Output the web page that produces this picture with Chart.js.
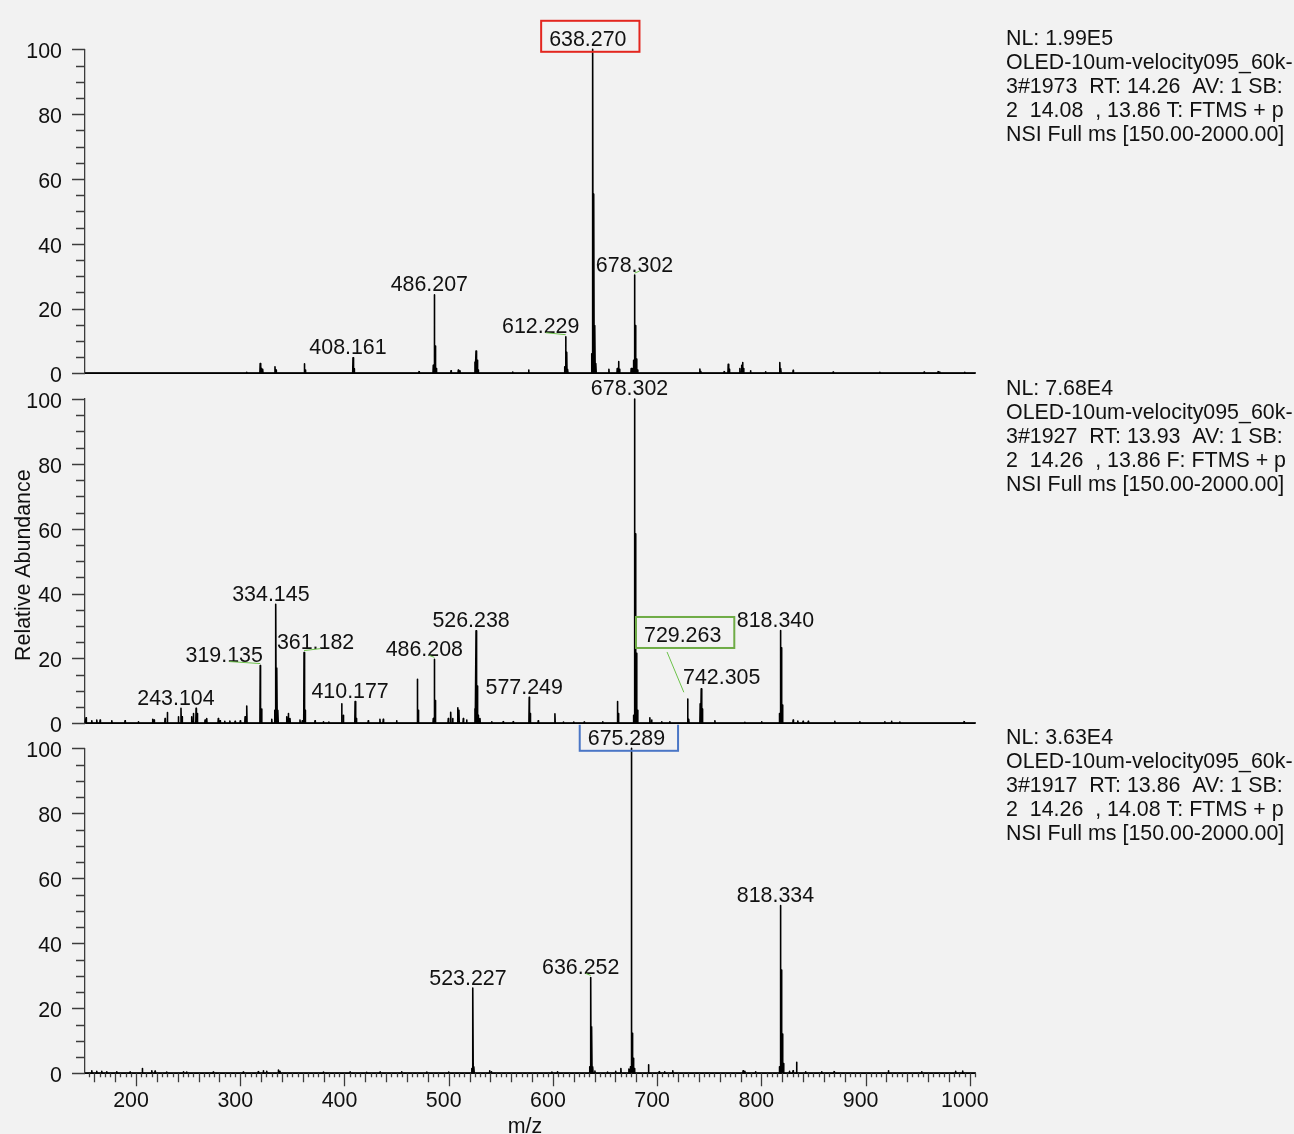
<!DOCTYPE html>
<html>
<head>
<meta charset="utf-8">
<title>OLED-10um-velocity095_60k-3 mass spectra</title>
<script src="https://cdn.jsdelivr.net/npm/chart.js@4.4.1/dist/chart.umd.min.js"></script>
<style>
  html, body { margin: 0; padding: 0; background: #f2f2f2; }
  #wrap { position: relative; width: 1294px; height: 1134px; overflow: hidden; background: #f2f2f2; }
  #wrap canvas { position: absolute; left: 0; top: 0; }
</style>
</head>
<body>
<div id="wrap">
  <canvas id="scanA" width="1294" height="1134"></canvas>
  <canvas id="scanB" width="1294" height="1134"></canvas>
  <canvas id="scanC" width="1294" height="1134"></canvas>
</div>
<script>
// ---- axis ranges and tick labels ----
const MZ_MIN = 151;
const MZ_MAX = 1005;
const mzTickValues = [200, 300, 400, 500, 600, 700, 800, 900, 1000];
const abundanceTickValues = [0, 20, 40, 60, 80, 100];

// ---- scan #1973 (top) : centroid m/z and relative abundance ----
const scanAMz = [306.2, 319.1, 320.1, 321.5, 333.3, 334.3, 361.5, 362.5, 408.161, 409.2,
  471.5, 485.2, 486.207, 487.21, 488.2, 502.2, 509.2, 510.8, 525.2, 526.2, 527.2, 528.2,
  561.3, 576.7, 611.2, 612.229, 613.23, 614.2, 637.27, 638.270, 639.27, 640.27, 641.27,
  653.7, 661.7, 663.0, 664.0, 675.1, 676.3, 677.3, 678.302, 679.3, 680.3, 681.3,
  741.0, 742.0, 764.3, 768.2, 769.2, 779.4, 781.0, 782.0, 783.0, 789.6, 804.0, 817.7,
  818.7, 830.5, 868.9, 913.7, 956.2, 969.6, 971.2, 995.2];
const scanAAb = [0.3, 3.0, 1.5, 1.2, 2.0, 1.0, 2.9, 1.0, 4.8, 1.4,
  0.5, 2.5, 24.2, 8.4, 1.5, 0.8, 1.0, 0.8, 3.5, 6.9, 4.0, 1.0,
  0.4, 1.0, 2.0, 11.3, 6.5, 1.2, 6.0, 100, 55.3, 14.7, 3.0,
  1.2, 1.5, 3.6, 1.2, 1.5, 1.5, 4.0, 30.3, 14.7, 4.4, 1.0,
  1.3, 0.6, 0.5, 2.8, 1.2, 1.5, 2.5, 3.3, 1.5, 0.8, 0.5, 3.3,
  1.5, 0.9, 0.4, 0.3, 0.4, 0.5, 0.4, 0.3];
const scanALabels = ['408.161', '486.207', '612.229', '638.270', '678.302'];
const scanAInfo = ['NL: 1.99E5', 'OLED-10um-velocity095_60k-', '3#1973  RT: 14.26  AV: 1 SB:',
  '2  14.08  , 13.86 T: FTMS + p', 'NSI Full ms [150.00-2000.00]'];

// ---- scan #1927 (middle) ----
const scanBMz = [152.0, 157.5, 162.3, 165.5, 176.7, 189.4, 202.2, 216.0, 217.3, 227.8, 230.0,
  240.6, 243.104, 244.1, 253.4, 255.0, 257.6, 258.8, 266.2, 267.8, 278.9, 280.6, 285.0, 290.0,
  295.0, 300.0, 304.6, 306.2, 319.135, 320.5, 330.2, 333.1, 334.145, 335.15, 336.15, 344.6,
  346.1, 347.7, 357.3, 359.5, 361.182, 362.2, 371.7, 379.7, 385.0, 397.3, 398.9, 410.177,
  411.3, 422.8, 434.0, 437.2, 450.0, 469.9, 470.9, 485.2, 486.208, 487.2, 499.6, 501.9, 503.8,
  508.6, 509.8, 514.0, 517.2, 525.2, 526.238, 527.24, 528.2, 530.0, 541.2, 552.3, 561.9,
  577.249, 578.3, 585.9, 601.9, 610.0, 620.0, 630.0, 647.7, 661.9, 662.9, 677.3, 678.302,
  679.3, 680.3, 681.3, 693.0, 694.7, 704.3, 712.2, 729.263, 730.3, 741.3, 742.305, 743.3,
  755.4, 784.2, 800.2, 817.3, 818.340, 819.34, 820.34, 830.5, 835.0, 840.0, 845.0, 870.5,
  894.5, 918.5, 924.9, 932.9, 994.5];
const scanBAb = [1.7, 0.8, 1.0, 1.0, 0.8, 0.8, 0.5, 1.2, 1.0, 1.5, 3.3,
  2.0, 4.6, 2.0, 2.0, 3.0, 4.6, 3.0, 1.0, 1.5, 1.5, 0.8, 0.6, 0.7,
  0.6, 0.8, 2.0, 5.3, 17.8, 4.4, 1.2, 4.0, 36.7, 17.0, 4.0, 2.0,
  3.0, 1.5, 1.0, 0.8, 21.8, 4.0, 0.8, 0.5, 0.4, 6.0, 2.5, 6.7,
  1.5, 0.8, 1.2, 1.2, 0.8, 13.6, 4.0, 1.5, 19.7, 7.0, 1.5, 3.4, 1.5,
  4.8, 4.0, 1.5, 1.0, 4.5, 28.5, 11.5, 2.5, 1.5, 0.5, 0.5, 0.5,
  8.0, 3.0, 0.8, 2.9, 0.4, 0.4, 0.4, 0.5, 6.7, 3.0, 2.5, 100,
  58.4, 21.6, 4.0, 1.7, 1.0, 0.5, 0.5, 7.5, 1.2, 6.0, 10.6, 4.4,
  0.8, 0.3, 0.5, 3.0, 28.6, 23.3, 5.6, 1.0, 0.7, 0.6, 0.6, 0.6,
  0.5, 0.5, 0.6, 0.4, 0.5];
const scanBLabels = ['243.104', '319.135', '334.145', '361.182', '410.177', '486.208',
  '526.238', '577.249', '678.302', '729.263', '742.305', '818.340'];
const scanBInfo = ['NL: 7.68E4', 'OLED-10um-velocity095_60k-', '3#1927  RT: 13.93  AV: 1 SB:',
  '2  14.26  , 13.86 F: FTMS + p', 'NSI Full ms [150.00-2000.00]'];

// ---- scan #1917 (bottom) ----
const scanCMz = [157.5, 162.3, 167.1, 171.9, 181.5, 194.2, 206.0, 215.1, 218.2, 229.4, 245.4,
  248.6, 274.1, 302.9, 317.3, 322.1, 325.4, 336.5, 338.1, 379.7, 405.3, 421.3, 434.1, 454.9,
  479.0, 500.0, 522.2, 523.227, 524.23, 539.2, 540.9, 599.0, 604.3, 635.2, 636.252, 637.25,
  638.26, 640.3, 652.3, 660.1, 665.2, 672.9, 674.3, 675.289, 676.29, 677.29, 678.3, 691.7,
  702.0, 707.1, 715.0, 782.5, 784.2, 794.4, 817.3, 818.334, 819.34, 820.34, 821.34, 826.9,
  830.4, 833.8, 842.4, 857.8, 869.8, 921.9, 953.8, 986.3, 993.2];
const scanCAb = [0.8, 0.6, 0.6, 0.5, 0.5, 0.4, 1.5, 0.8, 0.7, 0.4, 0.5,
  0.4, 0.4, 0.4, 0.5, 0.8, 0.6, 1.0, 0.6, 0.4, 0.4, 0.3, 0.4, 0.5,
  0.4, 0.4, 1.5, 26.2, 2.0, 0.8, 0.5, 0.4, 0.5, 2.0, 29.5, 14.3,
  2.0, 0.7, 0.4, 0.6, 1.5, 1.3, 2.0, 100, 12.3, 4.6, 1.5, 2.6,
  0.5, 0.5, 0.8, 0.8, 0.6, 0.5, 2.0, 51.6, 31.8, 12.1, 3.0, 0.6,
  0.8, 3.4, 0.5, 0.5, 0.5, 0.8, 0.5, 0.6, 0.7];
const scanCLabels = ['523.227', '636.252', '675.289', '818.334'];
const scanCInfo = ['NL: 3.63E4', 'OLED-10um-velocity095_60k-', '3#1917  RT: 13.86  AV: 1 SB:',
  '2  14.26  , 14.08 T: FTMS + p', 'NSI Full ms [150.00-2000.00]'];

// ---- label presentation (offsets in px relative to the peak apex) ----
const labelStyleA = {
  '612.229': { dx: -25, link: true },
  '638.270': { box: '#e3261f' },
  '678.302': { dx: 0, link: true }
};
const labelStyleB = {
  '319.135': { dx: -36, link: true },
  '361.182': { dx: 11.5, link: true },
  '486.208': { dx: -10, link: true },
  '729.263': { dy: -64, box: '#6fac46', lead: [-15.6, 17, -3.8, -6.7] },
  '742.305': { dx: 20.5, dy: -11.5 }
};
const labelStyleC = {
  '636.252': { dx: -10, link: true },
  '675.289': { box: '#4a76c6' }
};

const FONT_FAMILY = "'Liberation Sans', Arial, Helvetica, sans-serif";
const FONT_SIZE = 21.4;
const TEXT_COLOR = '#111111';
const AXIS_COLOR = '#3c3c3c';
const LINK_COLOR = '#6cc24a';
const PEAK_HALF_WIDTH = 0.3;
const MZ_LABEL_BAND = 60;

// stick spectrum: each centroid becomes a narrow spike on a zero baseline
function buildTrace(mzs, abs) {
  const order = mzs.map((m, i) => i).sort((a, b) => mzs[a] - mzs[b]);
  const pts = [{ x: MZ_MIN, y: 0 }];
  for (const i of order) {
    const m = mzs[i];
    pts.push({ x: m - PEAK_HALF_WIDTH, y: 0 }, { x: m, y: abs[i] }, { x: m + PEAK_HALF_WIDTH, y: 0 });
  }
  pts.push({ x: MZ_MAX, y: 0 });
  return pts;
}

// minor / major tick marks on both axes
const axisTicks = {
  id: 'axisTicks',
  afterDraw(chart, args, opts) {
    const { ctx, chartArea: a } = chart;
    const xs = chart.scales.x, ys = chart.scales.y;
    ctx.save();
    ctx.strokeStyle = AXIS_COLOR;
    ctx.lineWidth = 1.3;
    ctx.beginPath();
    for (let v = 0; v <= 100; v += 5) {
      const py = Math.round(ys.getPixelForValue(v)) + 0.5;
      const len = v % 20 === 0 ? 13 : 9;
      ctx.moveTo(a.left - len, py);
      ctx.lineTo(a.left, py);
    }
    if (opts.mzTicks) {
      for (let v = Math.ceil(MZ_MIN / 5) * 5; v <= MZ_MAX; v += 5) {
        const px = Math.round(xs.getPixelForValue(v)) + 0.5;
        const len = v % 100 === 0 ? 13 : (v % 20 === 0 ? 9 : 4);
        ctx.moveTo(px, a.bottom);
        ctx.lineTo(px, a.bottom + len);
      }
    }
    ctx.stroke();
    ctx.restore();
  }
};

// peak labels, boxes and leader lines
const peakLabels = {
  id: 'peakLabels',
  afterDatasetsDraw(chart, args, opts) {
    const { ctx, chartArea: a } = chart;
    const xs = chart.scales.x, ys = chart.scales.y;
    ctx.save();
    if (opts.clipAbove != null) {
      ctx.beginPath();
      ctx.rect(0, a.top - opts.clipAbove, chart.width, chart.height);
      ctx.clip();
    }
    ctx.font = FONT_SIZE + 'px ' + FONT_FAMILY;
    ctx.textAlign = 'center';
    ctx.textBaseline = 'middle';
    for (const text of opts.labels) {
      const mz = parseFloat(text);
      const i = opts.mz.findIndex(m => Math.abs(m - mz) < 1e-6);
      if (i < 0) continue;
      const st = opts.style[text] || {};
      const px = xs.getPixelForValue(mz);
      const py = ys.getPixelForValue(opts.ab[i]);
      const tx = px + (st.dx != null ? st.dx : -5);
      const ty = py + (st.dy != null ? st.dy : -10.5);
      ctx.fillStyle = TEXT_COLOR;
      ctx.fillText(text, tx, ty + 1);
      const w = ctx.measureText(text).width;
      if (st.box) {
        ctx.strokeStyle = st.box;
        ctx.lineWidth = 2;
        ctx.strokeRect(tx - w / 2 - 8, ty - 18, w + 21, 31);
      }
      ctx.strokeStyle = LINK_COLOR;
      ctx.lineWidth = 1;
      if (st.link) {
        ctx.beginPath();
        ctx.moveTo(tx + 5, py - 4);
        ctx.lineTo(px, py - 2);
        ctx.stroke();
      }
      if (st.lead) {
        ctx.beginPath();
        ctx.moveTo(tx + st.lead[0], ty + st.lead[1]);
        ctx.lineTo(px + st.lead[2], py + st.lead[3]);
        ctx.stroke();
      }
    }
    ctx.restore();
  }
};

// scan header text to the right of each panel, plus axis titles
const scanInfo = {
  id: 'scanInfo',
  afterDraw(chart, args, opts) {
    const { ctx, chartArea: a } = chart;
    ctx.save();
    ctx.font = FONT_SIZE + 'px ' + FONT_FAMILY;
    ctx.fillStyle = TEXT_COLOR;
    ctx.textAlign = 'left';
    ctx.textBaseline = 'middle';
    opts.lines.forEach((line, k) => ctx.fillText(line, 1006, a.top - 11 + k * 24 + 1));
    if (opts.yTitle) {
      ctx.save();
      ctx.translate(24, (a.top + a.bottom) / 2 + 4);
      ctx.rotate(-Math.PI / 2);
      ctx.textAlign = 'center';
      ctx.fillText(opts.yTitle, 0, 0);
      ctx.restore();
    }
    if (opts.xTitle) {
      ctx.textAlign = 'center';
      ctx.fillText(opts.xTitle, (a.left + a.right) / 2 - 5, a.bottom + 54);
    }
    ctx.restore();
  }
};

function makePanel(canvasId, mzs, abs, labels, style, info, frame) {
  const band = frame.mzLabels ? MZ_LABEL_BAND : 0;
  return new Chart(document.getElementById(canvasId), {
    type: 'line',
    data: {
      datasets: [{
        data: buildTrace(mzs, abs),
        borderColor: '#000',
        borderWidth: 1.6,
        borderJoinStyle: 'round',
        pointRadius: 0,
        tension: 0,
        fill: false,
        clip: false
      }]
    },
    options: {
      responsive: false,
      animation: false,
      events: [],
      layout: { padding: { left: 0, right: 1294 - 975, top: frame.top, bottom: 1134 - frame.bottom - band } },
      scales: {
        x: {
          type: 'linear',
          min: MZ_MIN,
          max: MZ_MAX,
          afterBuildTicks: s => { s.ticks = mzTickValues.map(v => ({ value: v })); },
          afterFit: s => { s.height = band; },
          grid: { display: false, drawTicks: false },
          border: { display: true, color: '#444444', width: 2 },
          ticks: {
            display: !!frame.mzLabels,
            callback: v => String(v),
            padding: 15,
            labelOffset: -5,
            maxRotation: 0,
            autoSkip: false,
            color: TEXT_COLOR,
            font: { family: FONT_FAMILY, size: FONT_SIZE }
          }
        },
        y: {
          type: 'linear',
          min: 0,
          max: 100,
          afterBuildTicks: s => { s.ticks = abundanceTickValues.map(v => ({ value: v })); },
          afterFit: s => { s.width = 85; },
          grid: { display: false, drawTicks: false },
          border: { display: true, color: AXIS_COLOR, width: 1.3 },
          ticks: {
            callback: v => String(v),
            padding: 23,
            labelOffset: 3,
            color: TEXT_COLOR,
            font: { family: FONT_FAMILY, size: FONT_SIZE }
          }
        }
      },
      plugins: {
        legend: { display: false },
        tooltip: { enabled: false },
        axisTicks: { mzTicks: !!frame.mzLabels },
        peakLabels: { labels: labels, mz: mzs, ab: abs, style: style, clipAbove: frame.clipAbove },
        scanInfo: { lines: info, yTitle: frame.yTitle, xTitle: frame.xTitle }
      }
    },
    plugins: [axisTicks, peakLabels, scanInfo]
  });
}

makePanel('scanA', scanAMz, scanAAb, scanALabels, labelStyleA, scanAInfo,
  { top: 49.3, bottom: 373.3 });
makePanel('scanB', scanBMz, scanBAb, scanBLabels, labelStyleB, scanBInfo,
  { top: 399, bottom: 723.3, clipAbove: 24, yTitle: 'Relative Abundance' });
makePanel('scanC', scanCMz, scanCAb, scanCLabels, labelStyleC, scanCInfo,
  { top: 748.3, bottom: 1073.3, clipAbove: 23.5, mzLabels: true, xTitle: 'm/z' });
</script>
</body>
</html>
